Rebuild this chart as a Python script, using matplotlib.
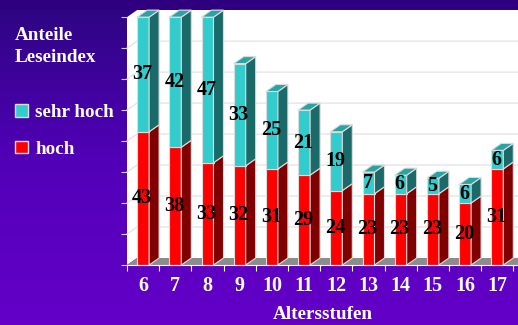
import numpy as np
import matplotlib.pyplot as plt
from matplotlib.patches import Polygon, Patch
from matplotlib.colors import LinearSegmentedColormap

# Daten
alter = ['6', '7', '8', '9', '10', '11', '12', '13', '14', '15', '16', '17']
hoch = [43, 38, 33, 32, 31, 29, 24, 23, 23, 23, 20, 31]
sehr_hoch = [37, 42, 47, 33, 25, 21, 19, 7, 6, 5, 6, 6]

plt.rcParams['font.family'] = ['Liberation Serif', 'DejaVu Serif']
plt.rcParams['font.weight'] = 'bold'

fig = plt.figure(figsize=(5.18, 3.25), dpi=100)

# Hintergrund mit Farbverlauf
bg = fig.add_axes([0, 0, 1, 1])
cmap = LinearSegmentedColormap.from_list('lila', ['#2c0580', '#5200b8', '#6400c8'])
grad = np.linspace(0, 1, 256).reshape(-1, 1)
bg.imshow(grad, aspect='auto', cmap=cmap, extent=[0, 1, 0, 1], origin='upper')
bg.axhspan(0.972, 1, color='#2e0080')
bg.set_axis_off()

ax = fig.add_axes([127 / 518, 60 / 325, 391 / 518, 255 / 325])
ax.patch.set_alpha(0)
x0, x1 = -0.5, -0.5 + 391 / 32.2
ax.set_xlim(x0, x1)
ax.set_ylim(0, 82.3)

dx = 10 / 32.2
dy = 7 / 3.1
w = 12 / 32.2
ymax = 80

# Waende
ax.add_patch(Polygon([(x0, 0), (x0, ymax), (x0 + dx, ymax + dy), (x0 + dx, dy)],
                     closed=True, fc='white', ec='none', clip_on=False, zorder=0))
ax.add_patch(Polygon([(x0 + dx, dy), (x0 + dx, ymax + dy), (x1, ymax + dy), (x1, dy)],
                     closed=True, fc='white', ec='none', clip_on=False, zorder=0))
for v in range(10, ymax, 10):
    ax.plot([x0, x0 + dx, x1], [v, v + dy, v + dy], color='#e2e2e2', lw=0.9, zorder=1, clip_on=False)
# Boden
ax.add_patch(Polygon([(x0, 0), (x1, 0), (x1, dy), (x0 + dx, dy)],
                     closed=True, fc='#8c8c8c', ec='none', clip_on=False, zorder=1))

edge = '#dcdcdc'


def balken(xc, y0, y1, front, side, top=None):
    xl, xr = xc - w / 2, xc + w / 2
    ax.add_patch(Polygon([(xl, y0), (xr, y0), (xr, y1), (xl, y1)], closed=True,
                         fc=front, ec=edge, lw=0.8, zorder=3, clip_on=False))
    ax.add_patch(Polygon([(xr, y0), (xr + dx, y0 + dy), (xr + dx, y1 + dy), (xr, y1)], closed=True,
                         fc=side, ec=edge, lw=0.8, zorder=3, clip_on=False))
    if top is not None:
        ax.add_patch(Polygon([(xl, y1), (xr, y1), (xr + dx, y1 + dy), (xl + dx, y1 + dy)], closed=True,
                             fc=top, ec=edge, lw=0.8, zorder=3, clip_on=False))


for i in range(len(alter)):
    h = hoch[i]
    s = sehr_hoch[i]
    balken(i, 0, h, '#ff0000', '#800000')
    balken(i, h, h + s, '#33cccc', '#1b6a6a', '#2aa3a3')
    ax.text(i - 0.03, h / 2, str(h), ha='center', va='center', fontsize=14.5,
            fontweight='bold', color='black', zorder=5)
    ax.text(i - 0.03, h + s / 2, str(s), ha='center', va='center', fontsize=14.5,
            fontweight='bold', color='black', zorder=5)

# Achsen
for sp in ['top', 'right', 'left']:
    ax.spines[sp].set_visible(False)
ax.spines['bottom'].set_color('white')
ax.spines['bottom'].set_zorder(4)
ax.set_xticks(range(len(alter)))
ax.set_xticklabels(alter, color='white', fontsize=14.5, fontweight='bold')
ax.set_xticks(np.arange(-0.5, len(alter), 1), minor=True)
ax.tick_params(axis='x', which='major', length=0, pad=8)
ax.tick_params(axis='x', which='minor', length=4, color='white', width=0.8)
ax.set_yticks(range(0, ymax + 1, 10))
ax.set_yticklabels([])
ax.tick_params(axis='y', length=4, color='#cfcfcf', width=0.8)
ax.set_xlabel('Altersstufen', color='white', fontsize=13.8, fontweight='bold', labelpad=7)

# Legende
fig.text(15 / 518, 1 - 27 / 325, 'Anteile\nLeseindex', color='white', fontsize=13.8,
         fontweight='bold', va='top', ha='left', linespacing=1.35)
leg = fig.legend(handles=[Patch(fc='#33cccc', ec='#dcdcdc', label='sehr hoch'),
                          Patch(fc='#ff0000', ec='#dcdcdc', label='hoch')],
                 loc='upper left', bbox_to_anchor=(-2 / 518, 1 - 87 / 325), frameon=False,
                 labelcolor='white', prop={'size': 13.8, 'weight': 'bold'},
                 handlelength=0.65, handleheight=0.65, handletextpad=0.4, labelspacing=1.0)

fig.savefig('out.png', dpi=100)
